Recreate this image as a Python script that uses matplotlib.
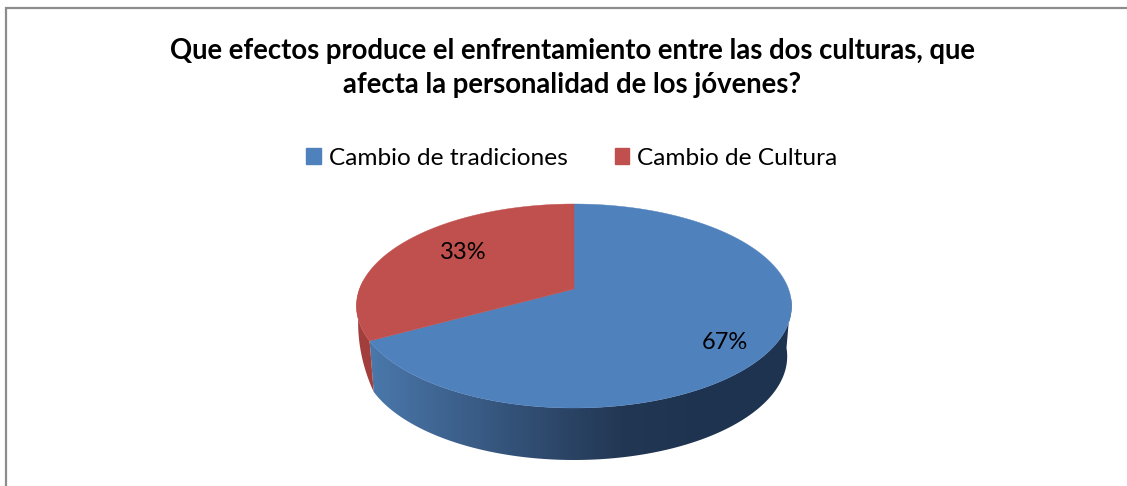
import numpy as np
import matplotlib
matplotlib.use('Agg')
import matplotlib.pyplot as plt
from matplotlib.patches import Patch, Polygon
from matplotlib.colors import LinearSegmentedColormap

title = 'Que efectos produce el enfrentamiento entre las dos culturas, que\nafecta la personalidad de los jóvenes?'
labels = ['Cambio de tradiciones', 'Cambio de Cultura']
values = [67, 33]
colors = ['#4f81bd', '#c0504d']

plt.rcParams['font.family'] = ['Lato', 'DejaVu Sans']

CX, CY = 574, 289
RX, RY = 214.5, 51
K = 1 / 6


def project(deg, depth=False):
    # deg runs clockwise from the top of the pie, with a bit of perspective
    a = np.radians(deg)
    x, y = np.sin(a), np.cos(a)
    w = 1 + K * y
    px = CX + RX * x / w
    py = (CY - RY * y) / w
    if depth:
        px = CX + (px - CX) * 0.98
        py = py + 50 - 2 * y
    return px, py


fig = plt.figure(figsize=(11.27, 4.86), dpi=100)
ax = fig.add_axes([0, 0, 1, 1])

# chart border, only top and left are in view
ax.plot([5.5, 5.5, 1127], [486, 8, 8], color='#8c8c8c', lw=1.6, solid_joinstyle='miter')

end = 360 * values[0] / sum(values)

# side of the blue slice
t = np.linspace(95, end, 200)
tx, ty = project(t)
bx, by = project(t, True)
side_xy = np.column_stack([np.r_[tx, bx[::-1]], np.r_[ty, by[::-1]]])
side = Polygon(side_xy, closed=True, fc='none', ec='none')
ax.add_patch(side)
cmap = LinearSegmentedColormap.from_list('side', ['#4a78ab', '#3d618d', '#2f4b6f', '#223753', '#1e3350', '#1f3450'])
grad = ax.imshow(np.linspace(0, 1, 256)[None, :], cmap=cmap, extent=[370, 792, 486, 0], aspect='auto', zorder=1)
grad.set_clip_path(side)

# side of the red slice, a thin sliver that tapers towards the left edge
t = np.linspace(end, 275, 60)
tx, ty = project(t)
ex, ey = project(end)
bx, by = project(end, True)
frac = (275 - t) / (275 - end)
ox = tx + frac * (bx - ex)
oy = ty + frac * (by - ey)
ax.fill(np.r_[tx, ox[::-1]], np.r_[ty, oy[::-1]], color='#a23f3c', lw=0, zorder=1)

# top of the pie
start = 0
for val, col in zip(values, colors):
    stop = start + 360 * val / sum(values)
    t = np.linspace(start, stop, 200)
    x, y = project(t)
    ax.fill(np.r_[CX, x], np.r_[CY, y], color=col, lw=0.3, zorder=2)
    start = stop

ax.text(725, 342, f'{values[0]}%', fontsize=17, ha='center', va='center', color='black', zorder=3)
ax.text(463, 252, f'{values[1]}%', fontsize=17, ha='center', va='center', color='black', zorder=3)

ax.text(572, 68, title, fontsize=19.8, fontweight='bold', ha='center', va='center', linespacing=1.36, color='black')

handles = [Patch(color=c) for c in colors]
ax.legend(handles, labels, ncol=2, loc='center', bbox_to_anchor=(572, 158), bbox_transform=ax.transData,
          frameon=False, fontsize=17.6, handlelength=0.58, handleheight=0.6, handletextpad=0.33,
          columnspacing=1.95, borderpad=0, labelcolor='black')

ax.set_xlim(0, 1127)
ax.set_ylim(486, 0)
ax.axis('off')

fig.savefig('out.png', dpi=100, facecolor='white')
